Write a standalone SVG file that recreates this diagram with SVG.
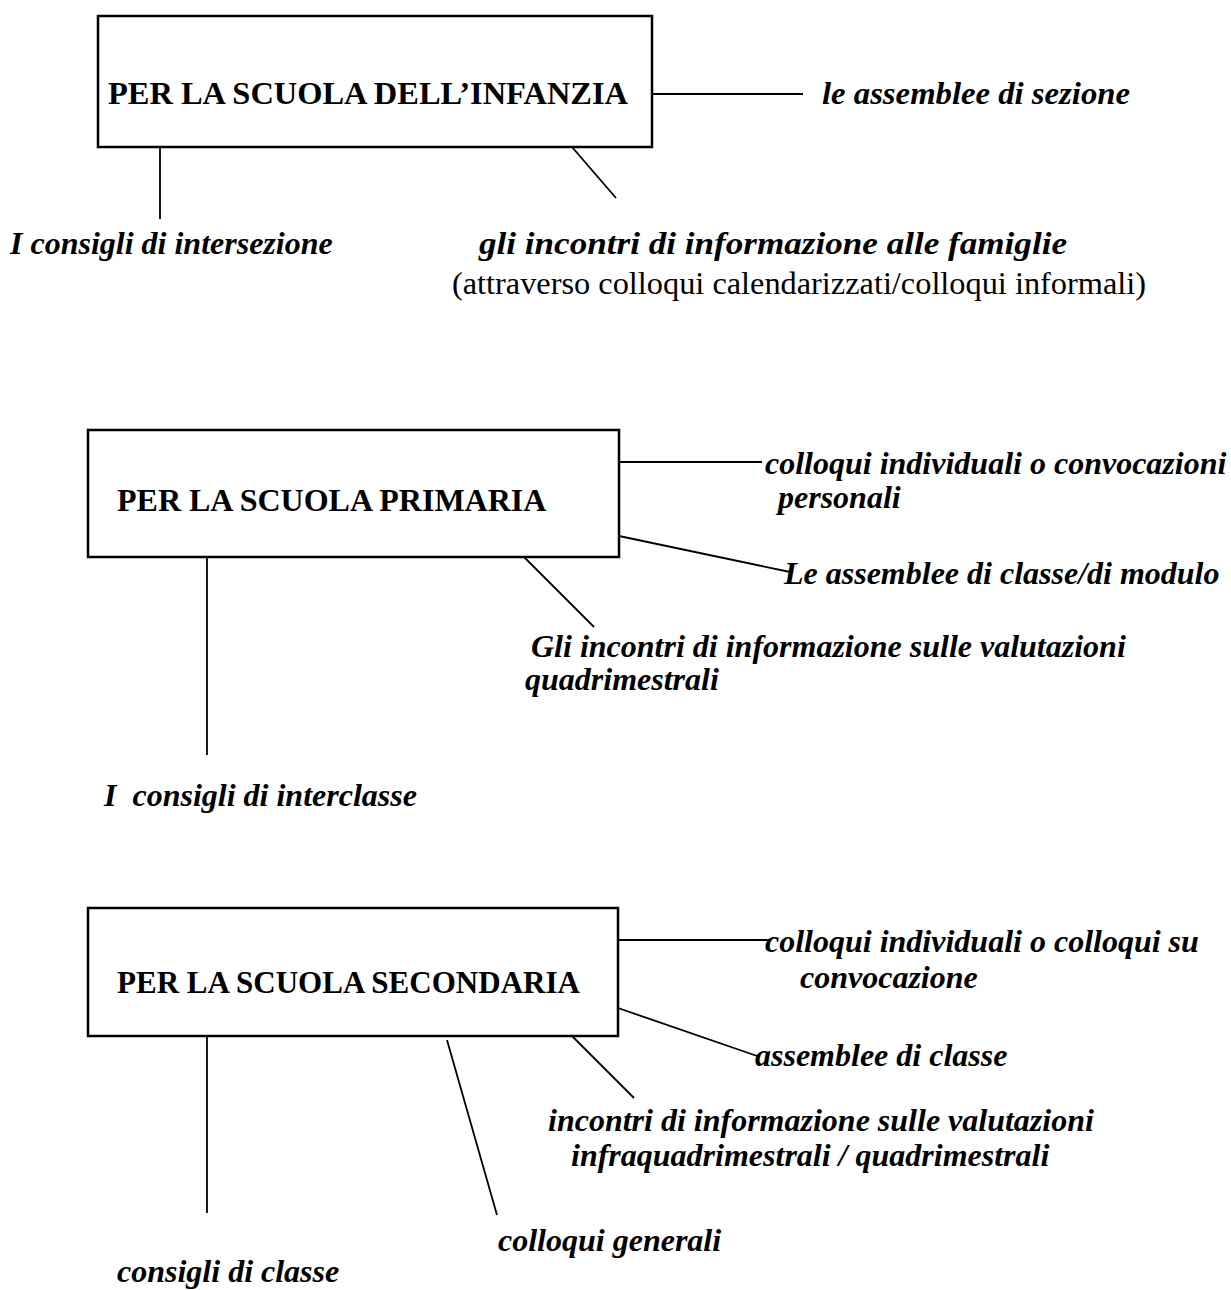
<svg xmlns="http://www.w3.org/2000/svg" width="1231" height="1290" viewBox="0 0 1231 1290">
<style>
.box{fill:#fff;stroke:#000;stroke-width:2.5}
.ln{stroke:#000;stroke-width:1.8;fill:none}
.t{font-family:"Liberation Serif","Times New Roman",serif;font-size:32px;font-weight:bold;fill:#000}
.i{font-family:"Liberation Serif","Times New Roman",serif;font-size:32px;font-weight:bold;font-style:italic;fill:#000}
.r{font-family:"Liberation Serif","Times New Roman",serif;font-size:32px;fill:#000}
</style>
<rect width="1231" height="1290" fill="#fff"/>
<g id="connectors">
<line class="ln" x1="652" y1="94" x2="803" y2="94"/>
<line class="ln" x1="160" y1="147" x2="160" y2="219"/>
<line class="ln" x1="572" y1="147" x2="616" y2="198"/>
<line class="ln" x1="619" y1="462" x2="762" y2="462"/>
<line class="ln" x1="619" y1="536" x2="790" y2="572"/>
<line class="ln" x1="524" y1="557" x2="594" y2="627"/>
<line class="ln" x1="207" y1="557" x2="207" y2="755"/>
<line class="ln" x1="618" y1="940" x2="770" y2="940"/>
<line class="ln" x1="618" y1="1008" x2="760" y2="1057"/>
<line class="ln" x1="572" y1="1036" x2="634" y2="1098"/>
<line class="ln" x1="447" y1="1040" x2="497" y2="1215"/>
<line class="ln" x1="207" y1="1036" x2="207" y2="1213"/>
</g>
<g id="node-infanzia">
<rect class="box" x="98" y="16" width="554" height="131"/>
<text class="t" x="108" y="104" textLength="520" lengthAdjust="spacingAndGlyphs">PER LA SCUOLA DELL’INFANZIA</text>
</g>
<g id="node-assemblee-sezione"><text class="i" x="822" y="104" textLength="308" lengthAdjust="spacingAndGlyphs">le assemblee di sezione</text></g>
<g id="node-intersezione"><text class="i" x="10" y="254">I consigli di intersezione</text></g>
<g id="node-incontri-famiglie">
<text class="i" x="479" y="254" textLength="588" lengthAdjust="spacingAndGlyphs">gli incontri di informazione alle famiglie</text>
<text class="r" x="452" y="294" textLength="694" lengthAdjust="spacingAndGlyphs">(attraverso colloqui calendarizzati/colloqui informali)</text>
</g>
<g id="node-primaria">
<rect class="box" x="88" y="430" width="531" height="127"/>
<text class="t" x="117" y="511">PER LA SCUOLA PRIMARIA</text>
</g>
<g id="node-colloqui-primaria">
<text class="i" x="765" y="474">colloqui individuali o convocazioni</text>
<text class="i" x="778" y="508">personali</text>
</g>
<g id="node-assemblee-classe-modulo"><text class="i" x="784" y="584">Le assemblee di classe/di modulo</text></g>
<g id="node-valutazioni-primaria">
<text class="i" x="531" y="657">Gli incontri di informazione sulle valutazioni</text>
<text class="i" x="525" y="690">quadrimestrali</text>
</g>
<g id="node-interclasse"><text class="i" x="104" y="806" xml:space="preserve">I  consigli di interclasse</text></g>
<g id="node-secondaria">
<rect class="box" x="88" y="908" width="530" height="128"/>
<text class="t" x="117" y="993" textLength="463" lengthAdjust="spacingAndGlyphs">PER LA SCUOLA SECONDARIA</text>
</g>
<g id="node-colloqui-secondaria">
<text class="i" x="765" y="952">colloqui individuali o colloqui su</text>
<text class="i" x="800" y="988">convocazione</text>
</g>
<g id="node-assemblee-classe"><text class="i" x="755" y="1066">assemblee di classe</text></g>
<g id="node-valutazioni-secondaria">
<text class="i" x="548" y="1131">incontri di informazione sulle valutazioni</text>
<text class="i" x="571" y="1166">infraquadrimestrali / quadrimestrali</text>
</g>
<g id="node-colloqui-generali"><text class="i" x="498" y="1251">colloqui generali</text></g>
<g id="node-consigli-classe"><text class="i" x="117" y="1282">consigli di classe</text></g>
</svg>
